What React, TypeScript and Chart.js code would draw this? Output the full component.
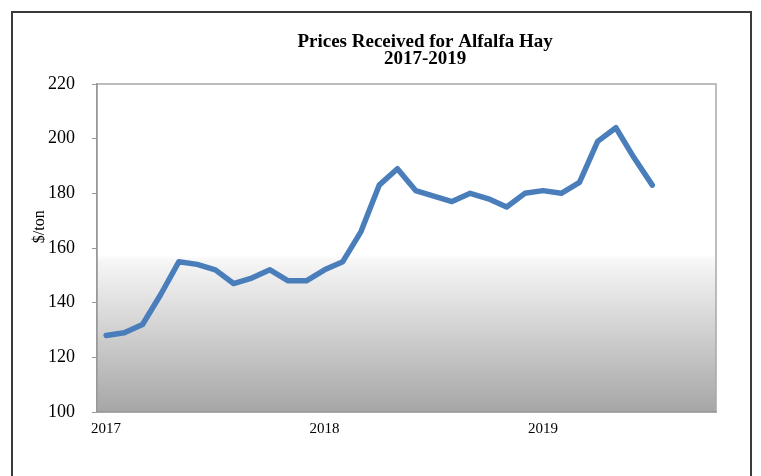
import React, { useEffect, useRef } from "react";
import { Chart, registerables } from "chart.js";

Chart.register(...registerables);

const months = ["Jan", "Feb", "Mar", "Apr", "May", "Jun", "Jul", "Aug", "Sep", "Oct", "Nov", "Dec"];
const years = ["2017", "2018", "2019"];
const categories: string[] = [];
years.forEach((y) => months.forEach((m) => categories.push(m + " " + y)));
const shownCategories = categories.slice(0, 34);

const prices = [
  128, 129, 132, 143, 155, 154, 152, 147, 149, 152, 148, 148,
  152, 155, 166, 183, 189, 181, 179, 177, 180, 178, 175, 180,
  181, 180, 184, 199, 204, 193, 183,
];

const yTicks = [100, 120, 140, 160, 180, 200, 220];
const titleLines = ["Prices Received for Alfalfa Hay", "2017-2019"];
const yTitle = "$/ton";

const SERIF = "'Liberation Serif', 'Times New Roman', serif";

const decorPlugin = {
  id: "decor",
  beforeDraw(chart: any) {
    const { ctx, chartArea: a } = chart;
    ctx.save();
    // outer frame
    ctx.strokeStyle = "#3a3a3a";
    ctx.lineWidth = 2;
    ctx.strokeRect(12, 12, 739, 480);
    // plot background gradient
    const g = ctx.createLinearGradient(0, a.top, 0, a.bottom);
    g.addColorStop(0, "#ffffff");
    g.addColorStop(0.52, "#ffffff");
    g.addColorStop(0.54, "#f6f6f6");
    g.addColorStop(1, "#a6a6a6");
    ctx.fillStyle = g;
    ctx.fillRect(a.left, a.top, a.right - a.left, a.bottom - a.top);
    ctx.strokeStyle = "#a8a8a8";
    ctx.lineWidth = 1.5;
    ctx.strokeRect(a.left, a.top, a.right - a.left, a.bottom - a.top);
    ctx.restore();
  },
  afterDraw(chart: any) {
    const { ctx, chartArea: a } = chart;
    ctx.save();
    ctx.fillStyle = "#000";
    ctx.textAlign = "center";
    ctx.textBaseline = "alphabetic";
    ctx.font = "bold 19px " + SERIF;
    const cx = a.left + (a.right - a.left) * 0.53;
    ctx.fillText(titleLines[0], cx, a.top - 37);
    ctx.fillText(titleLines[1], cx, a.top - 20);
    // y title
    ctx.font = "16px " + SERIF;
    ctx.translate(a.left - 57, a.top + (a.bottom - a.top) * 0.435);
    ctx.rotate(-Math.PI / 2);
    ctx.textBaseline = "middle";
    ctx.fillText(yTitle, 0, 0);
    ctx.restore();
  },
};

export default function App() {
  const ref = useRef<HTMLCanvasElement>(null);
  useEffect(() => {
    if (!ref.current) return;
    const chart = new Chart(ref.current, {
      type: "line",
      data: {
        labels: shownCategories,
        datasets: [
          {
            data: prices,
            borderColor: "#4a7ebb",
            borderWidth: 5.5,
            borderCapStyle: "round",
            borderJoinStyle: "round",
            pointRadius: 0,
            tension: 0,
            fill: false,
          },
        ],
      },
      options: {
        animation: false,
        responsive: false,
        layout: { padding: { left: 37, right: 45, top: 84, bottom: 0 } },
        plugins: { legend: { display: false }, tooltip: { enabled: false }, title: { display: false } },
        scales: {
          x: {
            type: "category",
            offset: true,
            afterFit: (s: any) => { s.height = 64; },
            grid: { display: false, drawTicks: false },
            border: { display: true, color: "#999999", width: 1.5 },
            ticks: {
              autoSkip: false,
              maxRotation: 0,
              padding: 8,
              color: "#000",
              font: { family: SERIF, size: 15 },
              callback: (_v: any, i: number) => (i % 12 === 0 ? shownCategories[i].split(" ")[1] : ""),
            },
          },
          y: {
            min: 100,
            max: 220,
            afterFit: (s: any) => { s.width = 60; },
            afterBuildTicks: (s: any) => { s.ticks = yTicks.map((v) => ({ value: v })); },
            grid: { display: true, drawOnChartArea: false, drawTicks: true, tickLength: 5, color: "#999999" },
            border: { display: true, color: "#999999", width: 1.5 },
            ticks: {
              padding: 17,
              color: "#000",
              font: { family: SERIF, size: 18 },
            },
          },
        },
      },
      plugins: [decorPlugin],
    });
    return () => chart.destroy();
  }, []);
  return (
    <div style={{ position: "fixed", left: 0, top: 0, width: 761, height: 476, background: "#fff" }}>
      <canvas ref={ref} width={761} height={476} style={{ display: "block" }} />
    </div>
  );
}
